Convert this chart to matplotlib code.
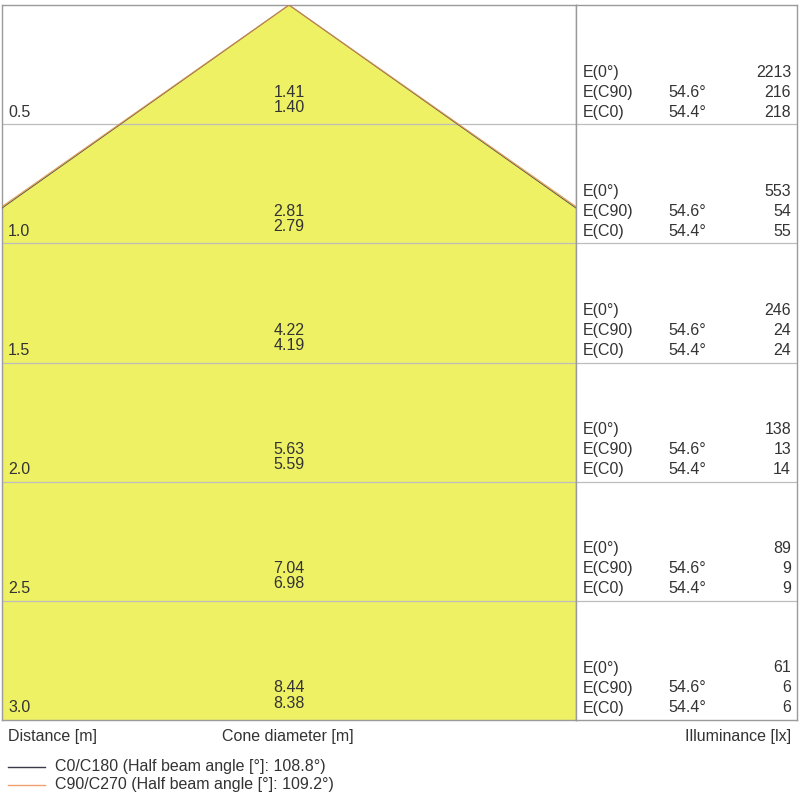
import numpy as np
import matplotlib.pyplot as plt

plt.rcParams['font.family'] = ['Liberation Sans', 'DejaVu Sans']

# data
distances = [0.5, 1.0, 1.5, 2.0, 2.5, 3.0]
diam_c90 = [1.41, 2.81, 4.22, 5.63, 7.04, 8.44]
diam_c0 = [1.40, 2.79, 4.19, 5.59, 6.98, 8.38]
e_center = [2213, 553, 246, 138, 89, 61]
e_c90 = [216, 54, 24, 13, 9, 6]
e_c0 = [218, 55, 24, 14, 9, 6]
angle_c90 = 54.6
angle_c0 = 54.4
half_beam_c0 = 108.8
half_beam_c90 = 109.2

txt = '#333333'
fs = 11.5
frame = '#9a9a9a'
rowline = '#bdbdbd'

fig = plt.figure(figsize=(8, 8), dpi=100)
W, H = 800, 800
ax = fig.add_axes([2 / W, 80 / H, 574 / W, 715 / H])
ar = fig.add_axes([576 / W, 80 / H, 221 / W, 715 / H])

half_w = 1.19
ax.set_xlim(-half_w, half_w)
ax.set_ylim(3.0, 0)
ar.set_xlim(0, 1)
ar.set_ylim(3.0, 0)

# cone
dmax = distances[-1]
r0 = diam_c0[-1] / 2
r90 = diam_c90[-1] / 2
ax.fill([0, r90, -r90], [0, dmax, dmax], color='#eef163', lw=0, zorder=1)
ax.plot([-r0, 0, r0], [dmax, 0, dmax], color='#5a5060', lw=0.7, zorder=3)
ax.plot([-r90, 0, r90], [dmax, 0, dmax], color='#d9914c', lw=0.9, alpha=0.8, zorder=4)

for a in (ax, ar):
    a.set_xticks([])
    a.set_yticks([])
    for s in a.spines.values():
        s.set_color(frame)
        s.set_linewidth(1.0)
    for d in distances[:-1]:
        a.axhline(d, color=rowline, lw=0.9, zorder=2)

px = 0.72  # points per pixel
for i, d in enumerate(distances):
    ax.annotate('%.1f' % d, (-half_w, d), xytext=(6 * px, 12 * px),
                textcoords='offset points', ha='left', va='center',
                fontsize=fs, color=txt)
    ax.annotate('%.2f' % diam_c90[i], (0, d), xytext=(0, 32 * px),
                textcoords='offset points', ha='center', va='center',
                fontsize=fs, color=txt)
    ax.annotate('%.2f' % diam_c0[i], (0, d), xytext=(0, 17 * px),
                textcoords='offset points', ha='center', va='center',
                fontsize=fs, color=txt)
    rows = [('E(0°)', '', e_center[i]),
            ('E(C90)', '%.1f°' % angle_c90, e_c90[i]),
            ('E(C0)', '%.1f°' % angle_c0, e_c0[i])]
    for k, (lab, ang, val) in enumerate(rows):
        off = (52 - 20 * k) * px
        ar.annotate(lab, (0.032, d), xytext=(0, off), textcoords='offset points',
                    ha='left', va='center', fontsize=fs, color=txt)
        if ang:
            ar.annotate(ang, (0.416, d), xytext=(0, off), textcoords='offset points',
                        ha='left', va='center', fontsize=fs, color=txt)
        ar.annotate(str(val), (0.973, d), xytext=(0, off), textcoords='offset points',
                    ha='right', va='center', fontsize=fs, color=txt)

fig.text(8 / W, 1 - 736 / H, 'Distance [m]', ha='left', va='center', fontsize=fs, color=txt)
fig.text(288 / W, 1 - 736 / H, 'Cone diameter [m]', ha='center', va='center', fontsize=fs, color=txt)
fig.text(791 / W, 1 - 736 / H, 'Illuminance [lx]', ha='right', va='center', fontsize=fs, color=txt)

# legend
leg_items = [('#3a3a48', 'C0/C180 (Half beam angle [°]: %.1f°)' % half_beam_c0, 767),
             ('#f0a070', 'C90/C270 (Half beam angle [°]: %.1f°)' % half_beam_c90, 785)]
for col, lab, yy in leg_items:
    fig.add_artist(plt.Line2D([8 / W, 45 / W], [1 - yy / H, 1 - yy / H], color=col, lw=1.0))
    fig.text(55 / W, 1 - yy / H, lab, ha='left', va='center', fontsize=fs, color=txt)

fig.savefig('out.png', dpi=100, facecolor='white')
